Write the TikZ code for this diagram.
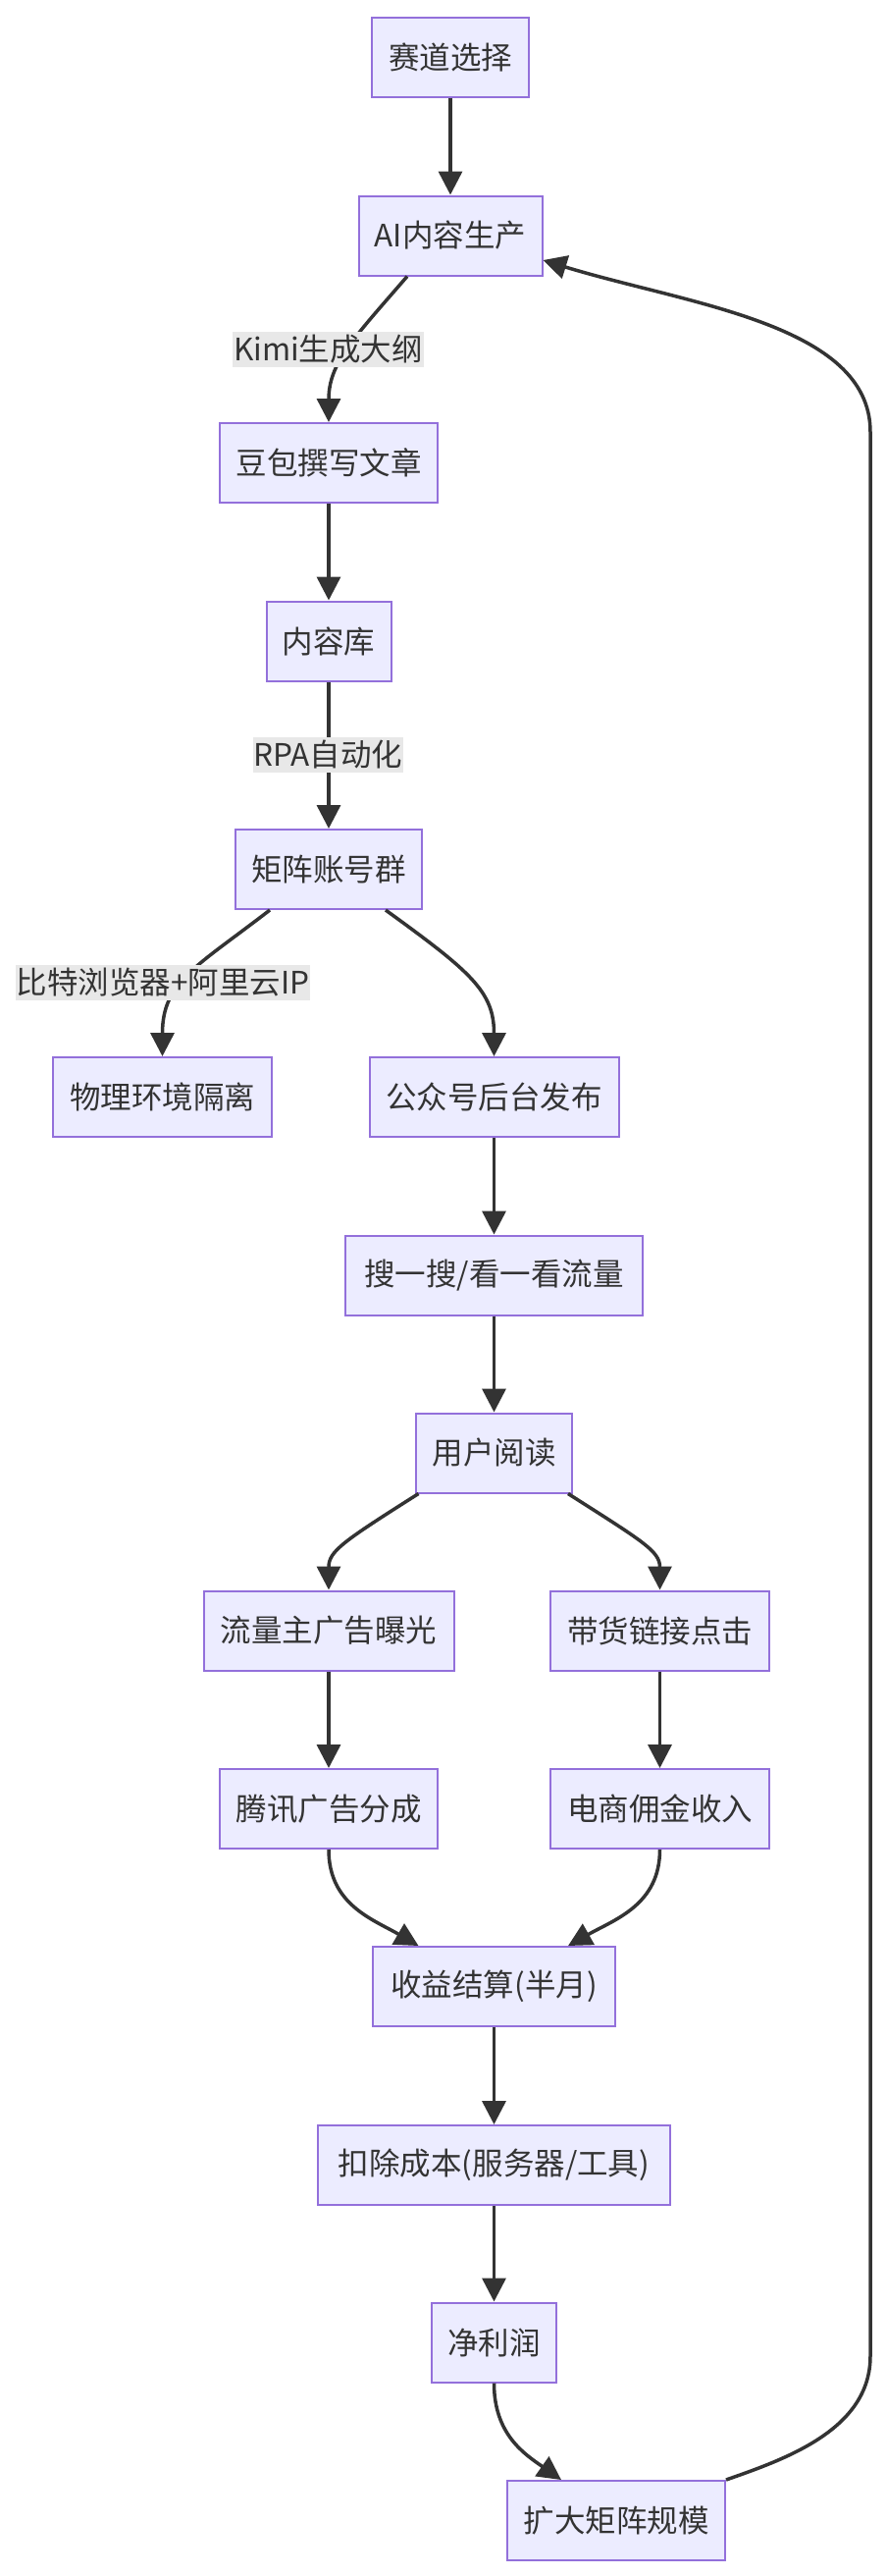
\documentclass[tikz,border=0pt]{standalone}
\usepackage{fontspec}
\setmainfont{Noto Sans CJK SC}
\usetikzlibrary{arrows.meta}
\definecolor{nodefill}{HTML}{ECECFF}
\definecolor{nodeline}{HTML}{9370DB}
\definecolor{edgecol}{HTML}{333333}
\definecolor{labelbg}{HTML}{E8E8E8}
\definecolor{txt}{HTML}{333333}
\begin{document}
\begin{tikzpicture}[x=1pt,y=-1pt,
  box/.style={draw=nodeline, fill=nodefill, line width=2pt, minimum height=81pt, inner sep=0pt, text=txt, font=\fontsize{31.5}{36}\selectfont},
  lbl/.style={fill=labelbg, inner xsep=1pt, inner ysep=0pt, minimum height=36pt, text=txt, font=\fontsize{31.5}{36}\selectfont},
  flow/.style={draw=edgecol, line width=3.5pt, -{Triangle[length=24pt,width=24pt]}}]
\useasboundingbox (0,0) rectangle (904,2624);
\fill[white] (0,0) rectangle (904,2624);

% nodes
\node[box, minimum width=160pt] (A) at (459,58) {赛道选择};
\node[box, minimum width=187pt] (B) at (459,240) {AI内容生产};
\node[box, minimum width=222pt] (C) at (335,471.5) {豆包撰写文章};
\node[box, minimum width=127pt] (D) at (335,653) {内容库};
\node[box, minimum width=190pt] (E) at (335,885.5) {矩阵账号群};
\node[box, minimum width=223pt] (F) at (165.5,1117.5) {物理环境隔离};
\node[box, minimum width=254pt] (G) at (503.5,1117.5) {公众号后台发布};
\node[box, minimum width=303pt] (H) at (503.5,1299) {搜一搜/看一看流量};
\node[box, minimum width=159pt] (I) at (503.5,1480) {用户阅读};
\node[box, minimum width=255pt] (J) at (335,1661) {流量主广告曝光};
\node[box, minimum width=223pt] (K) at (672.5,1661) {带货链接点击};
\node[box, minimum width=222pt] (L) at (335,1842.5) {腾讯广告分成};
\node[box, minimum width=223pt] (M) at (672.5,1842.5) {电商佣金收入};
\node[box, minimum width=247pt] (N) at (503.5,2023.5) {收益结算(半月)};
\node[box, minimum width=359pt] (O) at (503.5,2205.5) {扣除成本(服务器/工具)};
\node[box, minimum width=127pt] (P) at (503.5,2386) {净利润};
\node[box, minimum width=222pt] (Q) at (628,2567.5) {扩大矩阵规模};

\coordinate (rb) at (887,2400);
\coordinate (rt) at (887,440);

% edges
\draw[flow] (A) -- (B);
\draw[flow] ([xshift=-44pt]B.south) .. controls (360,345) and (335,370) .. (C.north);
\draw[flow] (C) -- (D);
\draw[flow] (D) -- (E);
\draw[flow] ([xshift=-60pt]E.south) .. controls (200,985) and (165.5,1000) .. (F.north);
\draw[flow] ([xshift=58pt]E.south) .. controls (480,990) and (503.5,1010) .. (G.north);
\draw[flow] (G) -- (H);
\draw[flow] (H) -- (I);
\draw[flow] ([xshift=-77pt]I.south) .. controls (350,1570) and (335,1580) .. (J.north);
\draw[flow] ([xshift=75.5pt]I.south) .. controls (655,1570) and (672.5,1580) .. (K.north);
\draw[flow] (J) -- (L);
\draw[flow] (K) -- (M);
\draw[flow] (L.south) .. controls (335,1940) and (380,1955) .. ([xshift=-77pt]N.north);
\draw[flow] (M.south) .. controls (672.5,1940) and (627,1955) .. ([xshift=75.5pt]N.north);
\draw[flow] (N) -- (O);
\draw[flow] (O) -- (P);
\draw[flow] (P.south) .. controls (503.5,2480) and (535,2500) .. ([xshift=-56pt]Q.north);
\draw[flow] (Q.north east) .. controls (800,2505) and (887,2475) .. (rb) -- (rt) .. controls (887,330) and (700,310) .. ([yshift=-25pt]B.east);

% edge labels
\node[lbl] (l1) at (334.5,355.5) {Kimi生成大纲};
\node[lbl] (l2) at (334.5,769) {RPA自动化};
\node[lbl] (l3) at (166,1001) {比特浏览器+阿里云IP};
\end{tikzpicture}
\end{document}
